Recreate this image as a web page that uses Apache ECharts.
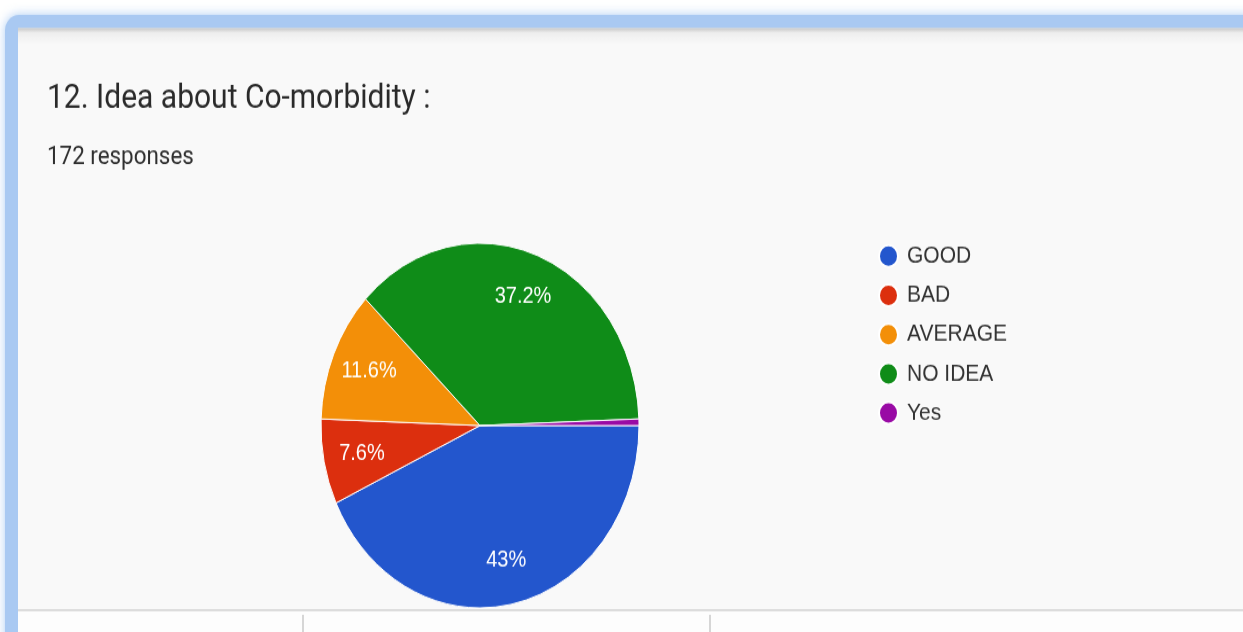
<!DOCTYPE html>
<html>
<head>
<meta charset="utf-8">
<script src="https://cdn.jsdelivr.net/npm/echarts@6/dist/echarts.min.js"></script>
<style>
  html, body { margin: 0; padding: 0; background: #ffffff; overflow: hidden; }
  #wrap { width: 1243px; height: 632px; overflow: hidden; }
  /* the chart is laid out at 1243x551 and stretched vertically to fill the page */
  #chart { width: 1243px; height: 551px; transform: scaleY(1.147); transform-origin: 0 0; }
</style>
</head>
<body>
<div id="wrap"><div id="chart"></div></div>
<script>
// Survey question 12: answers and how many respondents chose each
const questionTitle = '12. Idea about Co-morbidity :';
const responseCount = 172;
const answerNames = ['GOOD', 'BAD', 'AVERAGE', 'NO IDEA', 'Yes'];
const answerCounts = [74, 13, 20, 64, 1];
const answerColors = ['#2356cd', '#dc2f0e', '#f38f08', '#0f8c18', '#990aa5'];

const slices = answerNames.map((name, i) => ({ name: name, value: answerCounts[i] }));

const chart = echarts.init(document.getElementById('chart'), null, { renderer: 'canvas' });

const pieCenter = [480, 371];
const pieRadius = 159;

chart.setOption({
  backgroundColor: '#ffffff',
  color: answerColors,
  animation: false,
  title: {
    text: questionTitle,
    subtext: responseCount + ' responses',
    left: 47,
    top: 71,
    padding: 0,
    itemGap: 25,
    textStyle: { fontFamily: 'Roboto', fontSize: 30, fontWeight: 'normal', color: '#2a2a2a' },
    subtextStyle: { fontFamily: 'Roboto', fontSize: 22.4, color: '#2f2f2f' }
  },
  legend: {
    orient: 'vertical',
    left: 878,
    top: 212.8,
    padding: 0,
    icon: 'circle',
    itemWidth: 19,
    itemHeight: 19,
    itemGap: 13.2,
    data: answerNames,
    selectedMode: false,
    textStyle: { fontFamily: 'Liberation Sans', fontSize: 21, color: '#333333', padding: [0, 0, 0, 4] }
  },
  graphic: [
    // blue frame with a soft glow
    { type: 'rect', z: -10, shape: { x: 5, y: 13, width: 1320, height: 620, r: 14 },
      style: { fill: '#a9c9f2', shadowBlur: 10, shadowColor: 'rgba(140,185,240,0.7)' } },
    // light panel inside the frame
    { type: 'rect', z: -9, shape: { x: 18, y: 24.5, width: 1320, height: 620 },
      style: { fill: '#f9f9f9' } },
    // shaded strip under the top edge
    { type: 'rect', z: -8, shape: { x: 18, y: 24.5, width: 1320, height: 14 },
      style: { fill: new echarts.graphic.LinearGradient(0, 0, 0, 1, [
        { offset: 0, color: '#c9c9c9' }, { offset: 0.3, color: '#eeeeee' }, { offset: 1, color: '#f9f9f9' }
      ]) } },
    // divider below the chart and the cells underneath
    { type: 'rect', z: -7, shape: { x: 18, y: 531, width: 1320, height: 2 }, style: { fill: '#dcdcdc' } },
    { type: 'rect', z: -7, shape: { x: 18, y: 533, width: 1320, height: 20 }, style: { fill: '#fdfdfd' } },
    { type: 'line', z: -6, shape: { x1: 303, y1: 536, x2: 303, y2: 552 }, style: { stroke: '#c8c8c8', lineWidth: 1.5 } },
    { type: 'line', z: -6, shape: { x1: 710, y1: 536, x2: 710, y2: 552 }, style: { stroke: '#c8c8c8', lineWidth: 1.5 } }
  ],
  series: [
    {
      name: 'answers',
      type: 'pie',
      center: pieCenter,
      radius: [0, pieRadius],
      startAngle: 0,
      clockwise: true,
      avoidLabelOverlap: false,
      label: { show: false },
      labelLine: { show: false },
      itemStyle: { borderColor: '#ffffff', borderWidth: 1 },
      emphasis: { disabled: true },
      data: slices
    },
    {
      // percentage labels, placed toward the rim of each slice
      name: 'answer labels',
      type: 'pie',
      center: pieCenter,
      radius: [76, pieRadius],
      startAngle: 0,
      clockwise: true,
      silent: true,
      avoidLabelOverlap: false,
      itemStyle: { color: 'transparent', borderWidth: 0 },
      emphasis: { disabled: true },
      labelLine: { show: false },
      label: {
        show: true,
        position: 'inside',
        fontFamily: 'Liberation Sans',
        fontSize: 20,
        color: '#ffffff',
        formatter: function (p) {
          if (p.percent < 2) return '';
          return (Math.round(p.percent * 10) / 10) + '%';
        }
      },
      data: slices
    }
  ]
});
</script>
</body>
</html>
